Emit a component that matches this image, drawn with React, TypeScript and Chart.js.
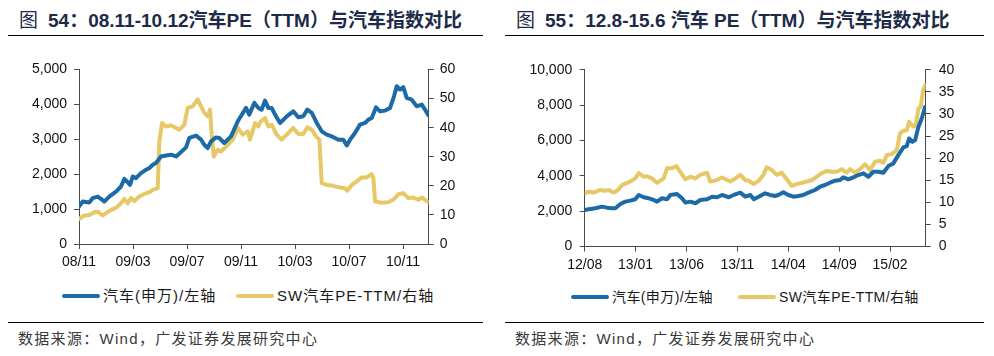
import React, { useEffect, useRef } from "react";
import { Chart, registerables } from "chart.js";
Chart.register(...registerables);

const FONT = '"Liberation Sans", Arial, "Noto Sans CJK SC", sans-serif';
const BLUE = "#1c6aa6";
const YELLOW = "#e6c866";
const AXIS = "#4a4a4a";

// ---- Figure 54: months since 2008-11 ----
const c54IndexMonths = [0, 0.27, 0.76, 1.01, 1.39, 1.63, 1.87, 2.24, 2.74, 3.11, 3.36, 3.61, 3.78, 3.98, 4.22, 4.59, 4.96, 5.21, 5.46, 5.7, 6.07, 6.44, 6.81, 7.19, 7.56, 7.93, 8.17, 8.67, 9.04, 9.28, 9.53, 9.78, 10.15, 10.39, 10.76, 11.26, 11.76, 12.37, 12.61, 12.99, 13.28, 13.53, 13.78, 14.02, 14.27, 14.52, 14.89, 15.39, 15.87, 16.24, 16.61, 16.91, 17.24, 17.61, 17.98, 18.35, 18.72, 18.96, 19.21, 19.58, 19.83, 20.07, 20.44, 20.81, 21.19, 21.43, 21.68, 22.0, 22.3, 22.67, 23.04, 23.33, 23.53, 23.78, 24.02, 24.27, 24.64, 25.01, 25.39, 25.63, 25.87];
const c54Index = [1070, 1216, 1187, 1313, 1360, 1293, 1216, 1360, 1503, 1647, 1868, 1773, 1695, 1934, 1888, 2032, 2127, 2175, 2270, 2319, 2509, 2538, 2558, 2509, 2635, 2768, 3038, 3104, 2989, 2845, 2750, 2940, 3055, 3038, 2894, 3084, 3515, 3900, 3707, 4044, 3900, 3851, 4110, 3900, 3900, 3707, 3468, 3659, 3802, 3630, 3659, 3851, 3756, 3468, 3228, 3133, 3084, 3038, 2989, 2989, 2825, 2989, 3181, 3420, 3468, 3564, 3612, 3917, 3802, 3822, 3900, 4233, 4521, 4426, 4492, 4187, 4138, 3946, 3995, 3851, 3687];
const c54PeMonths = [0, 0.39, 0.76, 1.13, 1.39, 1.76, 2.24, 2.74, 3.11, 3.36, 3.61, 3.85, 4.1, 4.47, 4.84, 5.21, 5.46, 5.83, 5.95, 6.15, 6.44, 6.81, 7.19, 7.43, 7.8, 8.05, 8.42, 8.79, 9.04, 9.28, 9.53, 9.7, 9.83, 9.98, 10.27, 10.52, 10.89, 11.39, 11.76, 12.13, 12.5, 12.67, 13.04, 13.28, 13.46, 13.78, 14.02, 14.27, 14.64, 15.01, 15.39, 15.87, 16.24, 16.61, 16.91, 17.24, 17.56, 17.8, 17.98, 18.35, 18.72, 18.96, 19.33, 19.7, 19.87, 20.2, 20.57, 20.94, 21.31, 21.68, 21.8, 21.93, 22.42, 22.91, 23.28, 23.65, 24.02, 24.39, 24.76, 25.13, 25.39, 25.63, 25.87];
const c54Pe = [8.6, 9.8, 10.0, 10.9, 11.1, 9.8, 11.4, 12.5, 14.0, 15.5, 14.0, 15.8, 14.8, 16.3, 17.2, 17.8, 18.6, 19.2, 35.3, 41.6, 40.4, 40.8, 39.9, 39.3, 41.0, 46.8, 47.3, 49.7, 47.3, 45.1, 43.9, 46.2, 37.6, 30.1, 32.4, 31.8, 33.5, 35.9, 39.9, 37.6, 38.7, 35.9, 41.6, 40.4, 42.2, 43.3, 40.4, 41.0, 37.6, 35.9, 37.6, 39.9, 37.8, 37.8, 40.1, 39.3, 37.0, 35.9, 20.9, 20.3, 20.1, 19.8, 19.4, 19.2, 18.3, 20.3, 21.5, 22.9, 22.9, 24.0, 22.7, 14.6, 14.2, 14.4, 15.2, 17.1, 17.5, 15.8, 16.0, 15.2, 16.0, 15.2, 14.4];
const c54XLabels = ["08/11", "09/03", "09/07", "09/11", "10/03", "10/07", "10/11"];
const c54LeftTicks = [0, 1000, 2000, 3000, 4000, 5000];
const c54RightTicks = [0, 10, 20, 30, 40, 50, 60];

// ---- Figure 55: months since 2012-08 ----
const c55IndexMonths = [0, 0.39, 1.04, 1.7, 2.19, 2.68, 3.01, 3.5, 3.99, 4.48, 4.97, 5.31, 5.8, 6.29, 6.78, 7.1, 7.6, 8.09, 8.41, 9.07, 9.56, 9.89, 10.38, 10.87, 11.36, 12.02, 12.51, 13.0, 13.49, 14.15, 14.64, 15.29, 15.78, 16.27, 16.61, 17.1, 17.72, 18.21, 18.7, 19.02, 19.51, 20.01, 20.5, 20.99, 21.48, 21.97, 22.63, 23.12, 23.61, 24.1, 24.6, 25.09, 25.41, 25.9, 26.39, 26.88, 27.38, 27.87, 28.36, 28.85, 29.34, 29.83, 30.32, 30.81, 31.31, 31.64, 31.87, 32.19, 32.46, 32.78, 33.11, 33.44];
const c55Index = [2069, 2108, 2165, 2255, 2198, 2165, 2165, 2407, 2537, 2593, 2672, 2914, 2785, 2728, 2632, 2537, 2728, 2672, 2914, 2971, 2728, 2480, 2537, 2446, 2632, 2672, 2819, 2785, 2914, 2785, 2914, 3044, 2819, 2914, 2672, 2819, 3010, 2914, 2858, 2914, 3067, 2914, 2819, 2858, 2914, 3044, 3196, 3382, 3478, 3608, 3720, 3760, 3912, 3799, 3912, 4042, 4138, 3946, 4228, 4228, 4171, 4549, 4701, 5169, 5603, 5676, 6110, 5919, 6015, 6764, 7238, 7892];
const c55PeMonths = [0, 0.39, 0.88, 1.53, 2.02, 2.36, 2.85, 3.17, 3.67, 4.16, 4.65, 4.97, 5.31, 5.8, 6.12, 6.61, 7.1, 7.76, 8.09, 8.58, 9.0, 9.39, 9.89, 10.38, 10.87, 11.36, 12.02, 12.34, 12.83, 13.49, 14.31, 14.8, 15.29, 15.78, 16.11, 16.61, 17.1, 17.55, 17.88, 18.38, 18.87, 19.36, 19.85, 20.34, 20.83, 21.32, 21.82, 22.31, 22.8, 23.29, 23.78, 24.27, 24.76, 25.25, 25.74, 26.07, 26.56, 27.05, 27.54, 28.03, 28.53, 29.02, 29.34, 29.68, 30.17, 30.66, 30.98, 31.31, 31.64, 31.87, 32.29, 32.52, 32.78, 33.01, 33.24, 33.47];
const c55Pe = [12.0, 12.4, 12.2, 12.8, 12.6, 12.8, 12.2, 12.6, 13.9, 14.4, 14.9, 15.4, 16.6, 15.8, 15.9, 15.4, 14.4, 15.4, 17.7, 17.7, 18.2, 16.9, 15.2, 15.8, 15.4, 16.2, 16.7, 14.7, 14.9, 15.6, 14.7, 15.4, 16.2, 15.0, 14.9, 14.1, 14.9, 16.2, 17.9, 17.3, 16.2, 16.7, 15.2, 13.7, 14.1, 14.4, 14.7, 15.0, 15.8, 16.6, 17.1, 16.9, 16.9, 17.5, 16.7, 17.5, 16.7, 17.5, 18.6, 17.3, 19.2, 19.4, 18.9, 20.7, 20.9, 21.8, 25.6, 26.2, 26.3, 28.2, 27.1, 27.4, 31.2, 31.6, 35.3, 36.5];
const c55XLabels = ["12/08", "13/01", "13/06", "13/11", "14/04", "14/09", "15/02"];
const c55LeftTicks = [0, 2000, 4000, 6000, 8000, 10000];
const c55RightTicks = [0, 5, 10, 15, 20, 25, 30, 35, 40];

const seriesNames = ["汽车(申万)/左轴", "SW汽车PE-TTM/右轴"];

type P = {
  w: number; h: number; left: number; right: number; top: number; bottom: number;
  xMax: number; xStep: number; xLabels: string[];
  idxX: number[]; idxY: number[]; peX: number[]; peY: number[];
  lTicks: number[]; rTicks: number[];
  lPad: number; rPad: number; xPad: number;
};

function makeConfig(p: P): any {
  const tickFont = { family: FONT, size: 14 };
  const grid = { display: true, drawOnChartArea: false, drawTicks: true, tickLength: 5, tickColor: AXIS, tickWidth: 1 };
  const border = { display: true, color: AXIS, width: 1 };
  const line = { borderWidth: 4, pointRadius: 0, tension: 0, borderJoinStyle: "round", borderCapStyle: "round", fill: false };
  return {
    type: "line",
    data: {
      datasets: [
        { ...line, label: seriesNames[0], data: p.idxX.map((x, i) => ({ x, y: p.idxY[i] })), yAxisID: "y", borderColor: BLUE, backgroundColor: BLUE },
        { ...line, label: seriesNames[1], data: p.peX.map((x, i) => ({ x, y: p.peY[i] })), yAxisID: "y2", borderColor: YELLOW, backgroundColor: YELLOW },
      ],
    },
    options: {
      responsive: false,
      animation: false,
      events: [],
      layout: { padding: { top: p.top, left: 0, right: 0, bottom: 0 } },
      plugins: { legend: { display: false }, tooltip: { enabled: false }, title: { display: false } },
      scales: {
        x: {
          type: "linear", min: 0, max: p.xMax,
          afterFit: (s: any) => { s.height = p.h - p.bottom; },
          border, grid,
          ticks: {
            stepSize: p.xStep, includeBounds: false, autoSkip: false, maxRotation: 0, minRotation: 0,
            padding: p.xPad, color: "#111", font: tickFont,
            callback: (v: any) => p.xLabels[Math.round(Number(v) / p.xStep)] ?? "",
          },
        },
        y: {
          position: "left", min: p.lTicks[0], max: p.lTicks[p.lTicks.length - 1],
          afterFit: (s: any) => { s.width = p.left; },
          border, grid,
          ticks: {
            stepSize: p.lTicks[1] - p.lTicks[0], padding: p.lPad, color: "#111", font: tickFont,
            callback: (v: any) => Number(v).toLocaleString("en-US"),
          },
        },
        y2: {
          position: "right", min: p.rTicks[0], max: p.rTicks[p.rTicks.length - 1],
          afterFit: (s: any) => { s.width = p.w - p.right; },
          border, grid,
          ticks: {
            stepSize: p.rTicks[1] - p.rTicks[0], padding: p.rPad, color: "#111", font: tickFont,
            callback: (v: any) => String(v),
          },
        },
      },
    },
  };
}

function ChartCanvas({ p, x }: { p: P; x: number }) {
  const ref = useRef<HTMLCanvasElement>(null);
  useEffect(() => {
    const chart = new Chart(ref.current!, makeConfig(p));
    return () => chart.destroy();
  }, []);
  return (
    <canvas
      ref={ref}
      width={p.w}
      height={p.h}
      style={{ position: "absolute", left: x, top: 0, width: p.w, height: p.h }}
    />
  );
}

const p54: P = {
  w: 497, h: 280, left: 79, right: 428.7, top: 69.5, bottom: 244,
  xMax: 25.9, xStep: 4, xLabels: c54XLabels,
  idxX: c54IndexMonths, idxY: c54Index, peX: c54PeMonths, peY: c54Pe,
  lTicks: c54LeftTicks, rTicks: c54RightTicks, lPad: 7, rPad: 6, xPad: 5,
};
const p55: P = {
  w: 497, h: 280, left: 87.7, right: 428.7, top: 69.7, bottom: 246.5,
  xMax: 33.5, xStep: 5, xLabels: c55XLabels,
  idxX: c55IndexMonths, idxY: c55Index, peX: c55PeMonths, peY: c55Pe,
  lTicks: c55LeftTicks, rTicks: c55RightTicks, lPad: 7.5, rPad: 8, xPad: 5,
};

const titleColor = "#1d2a48";

function Title({ x, num, rest }: { x: number; num: string; rest: string }) {
  return (
    <div style={{ position: "absolute", left: x, top: 9, fontFamily: FONT, fontSize: 19, lineHeight: "24px", color: titleColor, whiteSpace: "nowrap" }}>
      <span style={{ fontWeight: 400 }}>图</span>
      <span style={{ fontWeight: 700, marginLeft: 10 }}>{num}：{rest}</span>
    </div>
  );
}

function Rule({ x, y, w }: { x: number; y: number; w: number }) {
  return <div style={{ position: "absolute", left: x, top: y, width: w, height: 1, background: "#000" }} />;
}

function LegendItem({ x, y, color, text, size, spacing }: { x: number; y: number; color: string; text: string; size: number; spacing: number }) {
  return (
    <>
      <div style={{ position: "absolute", left: x, top: y - 2, width: 38, height: 4, borderRadius: 2, background: color }} />
      <div style={{ position: "absolute", left: x + 41, top: y - 10, lineHeight: "20px", fontFamily: FONT, fontSize: size, letterSpacing: spacing, color: "#1a1a1a", whiteSpace: "nowrap" }}>
        {text}
      </div>
    </>
  );
}

function Source({ x }: { x: number }) {
  return (
    <div style={{ position: "absolute", left: x, top: 329, lineHeight: "20px", fontFamily: FONT, fontSize: 15, letterSpacing: 1.3, color: "#3a3a3a", whiteSpace: "nowrap" }}>
      数据来源：Wind，广发证券发展研究中心
    </div>
  );
}

export default function App() {
  return (
    <div style={{ position: "absolute", left: 0, top: 0, width: 994, height: 356, background: "#fff", overflow: "hidden" }}>
      <Title x={19} num="54" rest="08.11-10.12汽车PE（TTM）与汽车指数对比" />
      <Title x={516} num="55" rest="12.8-15.6 汽车 PE（TTM）与汽车指数对比" />
      <Rule x={8} y={35} w={475} />
      <Rule x={505} y={35} w={479} />
      <ChartCanvas p={p54} x={0} />
      <ChartCanvas p={p55} x={497} />
      <LegendItem x={62} y={296} color={BLUE} text={seriesNames[0]} size={15} spacing={1} />
      <LegendItem x={236} y={296} color={YELLOW} text={seriesNames[1]} size={15} spacing={1} />
      <LegendItem x={571} y={297} color={BLUE} text={seriesNames[0]} size={14} spacing={0.4} />
      <LegendItem x={738} y={297} color={YELLOW} text={seriesNames[1]} size={14} spacing={0.4} />
      <Rule x={8} y={322} w={475} />
      <Rule x={505} y={322} w={479} />
      <Source x={18} />
      <Source x={515} />
    </div>
  );
}
